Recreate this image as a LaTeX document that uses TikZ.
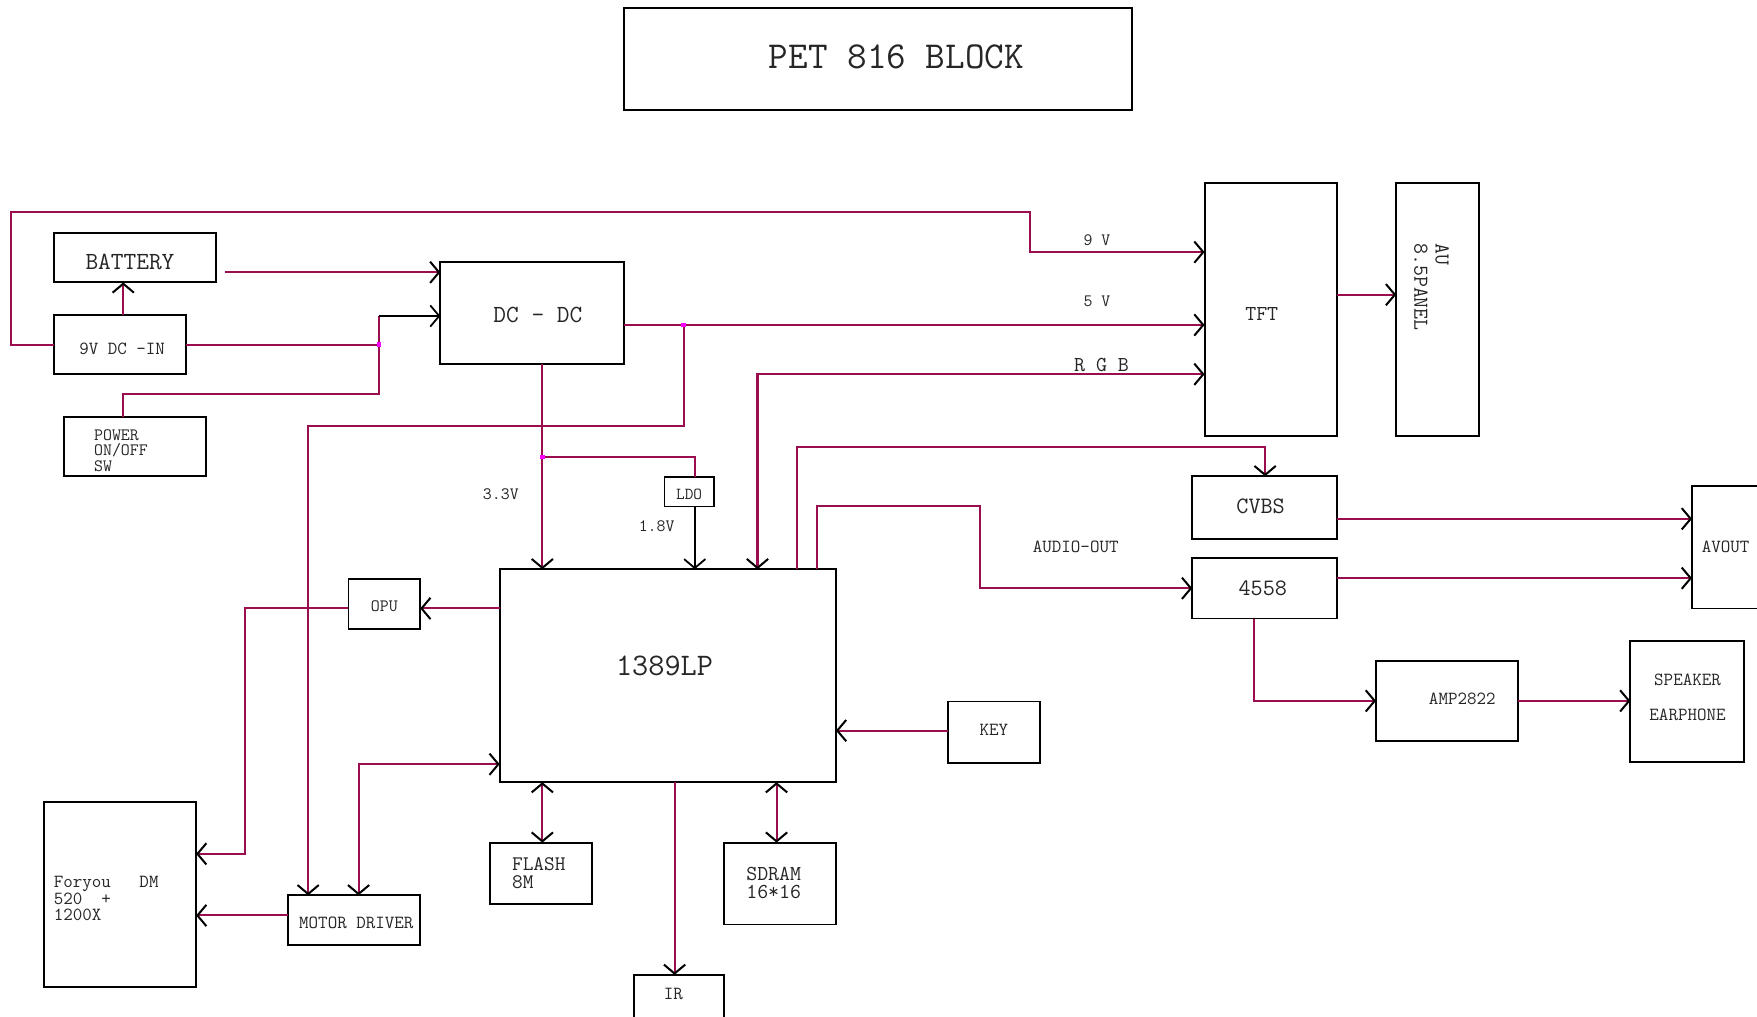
\documentclass[tikz,border=0pt]{standalone}
\usepackage{fontspec}
\usetikzlibrary{arrows.meta}
\definecolor{wire}{HTML}{9A0E50}
\definecolor{jdot}{HTML}{FF00FF}
\newcommand{\myfs}[2]{\ttfamily\fontsize{#1}{#2}\selectfont}
\begin{document}
\begin{tikzpicture}[x=1pt,y=-1pt,
  box/.style={draw=black,line width=1.7pt,inner sep=0pt,outer sep=0pt},
  txt/.style={inner sep=0pt,outer sep=0pt,text=black!85},
  conn/.style={draw=wire,line width=1.8pt},
  blk/.style={draw=black,line width=1.6pt},
  jn/.style={fill=jdot,draw=none,minimum size=4pt,inner sep=0pt},
  >={Straight Barb[length=8pt,width=19pt,color=black]}]
\fill[white] (0,0) rectangle (1568,907);
\useasboundingbox (0,0) rectangle (1568,907);

% boxes
\node[box,line width=1.4pt,minimum width=453pt,minimum height=91pt] (title) at (783.5,52.5) {};
\node[box,minimum width=145pt,minimum height=44pt] (bat) at (120.5,230) {};
\node[box,minimum width=118pt,minimum height=53pt] (dcin) at (107,307.5) {};
\node[box,minimum width=127pt,minimum height=53pt] (sw) at (120.5,398.5) {};
\node[box,minimum width=164pt,minimum height=91pt] (dcdc) at (475,279.5) {};
\node[box,minimum width=118pt,minimum height=226pt] (tft) at (1134,276) {};
\node[box,minimum width=74pt,minimum height=226pt] (au) at (1283,276) {};
\node[box,minimum width=129pt,minimum height=56pt] (cvbs) at (1128.5,453) {};
\node[box,minimum width=129pt,minimum height=54pt] (u4558) at (1128.5,525) {};
\node[box,minimum width=80pt,minimum height=109pt] (avout) at (1550,488.5) {};
\node[box,minimum width=127pt,minimum height=71pt] (amp) at (1291.5,625.5) {};
\node[box,minimum width=101pt,minimum height=108pt] (spk) at (1505.5,626) {};
\node[box,minimum width=82pt,minimum height=55pt] (key) at (887,653.5) {};
\node[box,minimum width=300pt,minimum height=190pt] (lp) at (596,603) {};
\node[box,minimum width=44pt,minimum height=26pt] (ldo) at (615,439) {};
\node[box,minimum width=64pt,minimum height=44pt] (opu) at (343,539) {};
\node[box,minimum width=91pt,minimum height=55pt] (flash) at (482.5,779.5) {};
\node[box,minimum width=100pt,minimum height=73pt] (sdram) at (696,788.5) {};
\node[box,minimum width=80pt,minimum height=45pt] (ir) at (606,892.5) {};
\node[box,minimum width=136pt,minimum height=165pt] (foryou) at (107,798.5) {};
\node[box,minimum width=118pt,minimum height=44pt] (motor) at (316,821) {};

% texts
\node[txt,font=\myfs{34}{34}] (ttitle) at (800,51) {PET 816 BLOCK};
\node[txt,font=\myfs{22}{22}] (tbat) at (116,234) {BATTERY};
\node[txt,font=\myfs{16.5}{16.5}] (tdcin) at (109,311) {9V DC -IN};
\node[txt,font=\myfs{15.5}{14},anchor=west,align=left] (tsw) at (84,402) {POWER\\ON/OFF\\SW};
\node[txt,font=\myfs{22}{22}] (tdcdc) at (480,281) {DC - DC};
\node[txt,font=\myfs{19}{19}] (ttft) at (1126,280) {TFT};
\node[txt,font=\myfs{19}{19},rotate=-90,anchor=west,align=left] (tau) at (1277.5,217) {AU\\8.5PANEL};
\node[txt,font=\myfs{21}{21}] (tcvbs) at (1125,452) {CVBS};
\node[txt,font=\myfs{21}{21}] (t4558) at (1127,525) {4558};
\node[txt,font=\myfs{16.5}{16.5}] (tavout) at (1540,488) {AVOUT};
\node[txt,font=\myfs{16.5}{16.5}] (tamp) at (1305,624) {AMP2822};
\node[txt,font=\myfs{16.5}{31},align=center] (tspk) at (1506,622.5) {SPEAKER\\EARPHONE};
\node[txt,font=\myfs{16.5}{16.5}] (tkey) at (887,651) {KEY};
\node[txt,font=\myfs{28}{28}] (tlp) at (593,594) {1389LP};
\node[txt,font=\myfs{15}{15}] (tldo) at (615,441) {LDO};
\node[txt,font=\myfs{15.5}{15.5}] (topu) at (343,541) {OPU};
\node[txt,font=\myfs{18.5}{16.5},anchor=west,align=left] (tflash) at (457,779) {FLASH\\8M};
\node[txt,font=\myfs{19}{16},anchor=west,align=left] (tsdram) at (666,788) {SDRAM\\16*16};
\node[txt,font=\myfs{16.5}{16.5}] (tir) at (601,887) {IR};
\node[txt,font=\myfs{16.5}{14},anchor=west,align=left] (tfor) at (48,802) {Foryou~~~DM\\520~~+\\1200X};
\node[txt,font=\myfs{16.5}{16.5}] (tmotor) at (318,824) {MOTOR DRIVER};
\node[txt,font=\myfs{15.5}{15.5}] (l9v) at (979,214) {9 V};
\node[txt,font=\myfs{15.5}{15.5}] (l5v) at (979,269) {5 V};
\node[txt,font=\myfs{19}{19}] (lrgb) at (983,326) {R G B};
\node[txt,font=\myfs{15.5}{15.5}] (l33) at (447,441) {3.3V};
\node[txt,font=\myfs{15.5}{15.5}] (l18) at (586,470) {1.8V};
\node[txt,font=\myfs{16.5}{16.5}] (laud) at (960,488) {AUDIO-OUT};

% junctions
\coordinate (j0) at (338,282);
\coordinate (j1) at (338,307.5);
\coordinate (j2) at (610,290);
\coordinate (j3) at (484,408);

% connectors
\draw[conn,->] (dcin.west) -- (10,307.5) |- (919,189) |- (tft.west |- 0,225);
\draw[conn,->,shorten <=8pt] (bat.east |- 0,243) -- (dcdc.west |- 0,243);
\draw[conn,->] (dcin.north -| 110,0) -- (110,0 |- bat.south);
\draw[conn] (dcin.east) -- (j1);
\draw[conn] (sw.north -| 110,0) |- (338,352) -- (j0);
\draw[blk,->] (j0) -- (dcdc.west |- j0);
\draw[conn,->] (dcdc.east |- j2) -- (tft.west |- j2);
\draw[conn,->] (j2) |- (275,380) -- (275,0 |- motor.north);
\draw[conn,->] (dcdc.south -| j3) -- (j3 |- lp.north);
\draw[conn] (j3) -| (620,0 |- ldo.north);
\draw[blk,->] (620,0 |- ldo.south) -- (620,0 |- lp.north);
\draw[conn,<->] (676,0 |- lp.north) |- (tft.west |- 0,334);
\draw[conn,->] (711,0 |- lp.north) |- (1129,399) -- (1129,0 |- cvbs.north);
\draw[conn,->] (729,0 |- lp.north) |- (875,452) |- (u4558.west);
\draw[conn,->] (cvbs.east |- 0,463) -- (avout.west |- 0,463);
\draw[conn,->] (u4558.east |- 0,516) -- (avout.west |- 0,516);
\draw[conn,->] (u4558.south -| 1119,0) |- (amp.west);
\draw[conn,->] (amp.east) -- (spk.west |- amp.east);
\draw[conn,->] (tft.east |- 0,263) -- (au.west |- 0,263);
\draw[conn,->] (key.west |- 0,652) -- (lp.east |- 0,652);
\draw[conn,->] (lp.west |- 0,543) -- (opu.east |- 0,543);
\draw[conn,->] (opu.west |- 0,543) -| (219,762) -- (foryou.east |- 0,762);
\draw[conn,->] (motor.west |- 0,817) -- (foryou.east |- 0,817);
\draw[conn,<->] (lp.west |- 0,682) -| (320,0 |- motor.north);
\draw[conn,<->] (484,0 |- lp.south) -- (484,0 |- flash.north);
\draw[conn,<->] (693,0 |- lp.south) -- (693,0 |- sdram.north);
\draw[conn,->] (602,0 |- lp.south) -- (602,0 |- ir.north);

% junction dots
\node[jn] (dj1) at (j1) {};
\node[jn] (dj2) at (j2) {};
\node[jn] (dj3) at (j3) {};
\end{tikzpicture}
\end{document}
